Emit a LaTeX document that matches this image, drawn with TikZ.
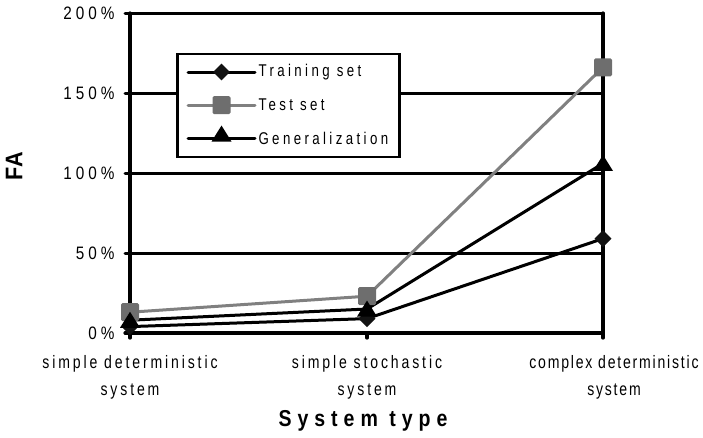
\documentclass[tikz,border=0pt]{standalone}
\usepackage{fontspec}
\setmainfont{Liberation Sans}[FakeStretch=0.78, LetterSpace=20]
\usetikzlibrary{shapes.geometric}
\definecolor{testgrey}{HTML}{808080}
\definecolor{markgrey}{HTML}{6E6E6E}
\tikzset{
  gridline/.style={line width=3pt, line cap=round},
  axisline/.style={line width=3.2pt, line cap=round},
  series/.style={line width=3pt, line cap=round, line join=round},
  dmark/.style={diamond, fill=black!93, minimum width=17pt, minimum height=17pt, inner sep=0pt},
  smark/.style={rectangle, fill=markgrey, minimum size=18pt, inner sep=0pt, rounded corners=1.5pt},
  tmark/.style={isosceles triangle, isosceles triangle apex angle=64, shape border rotate=90,
                fill=black, minimum width=17pt, minimum height=16pt, inner sep=0pt},
  ticklab/.style={anchor=east, font=\fontsize{18}{18}\selectfont\addfontfeature{FakeStretch=0.85, LetterSpace=22}},
  catlab/.style={align=center, font=\fontsize{18}{27}\selectfont\addfontfeature{LetterSpace=16}},
  catlabtight/.style={align=center, font=\fontsize{18}{27}\selectfont\addfontfeature{LetterSpace=10}},
  leglab/.style={anchor=west, font=\fontsize{17}{17}\selectfont},
  axtitle/.style={font=\fontsize{23}{23}\selectfont\bfseries\addfontfeature{FakeStretch=0.85, LetterSpace=26}},
  ytitle/.style={font=\fontsize{24}{24}\selectfont\bfseries\addfontfeature{FakeStretch=0.9, LetterSpace=4}},
}
\begin{document}
\begin{tikzpicture}[x=1pt, y=-1pt]
  \useasboundingbox (0,0) rectangle (703,437);
  % value axis: 0% at y=333, 80 units per 50%
  \def\yv#1{333-1.6*#1}
  % gridlines
  \foreach \v in {50,100,150,200}
    \draw[gridline] (125,{\yv{\v}}) -- (603,{\yv{\v}});
  % plot frame and axes
  \draw[axisline] (603,13) -- (603,338);
  \draw[axisline] (130,13) -- (130,338);
  \draw[axisline] (125,333) -- (603,333);
  \draw[axisline] (367,333) -- (367,338);
  % value labels
  \foreach \v in {0,50,100,150,200}
    \node[ticklab] at (118,{\yv{\v}}) {\v\%};
  % data points
  \coordinate (tr1) at (130,{\yv{4}});
  \coordinate (tr2) at (367,{\yv{9}});
  \coordinate (tr3) at (603,{\yv{59}});
  \coordinate (te1) at (130,{\yv{13}});
  \coordinate (te2) at (367,{\yv{23}});
  \coordinate (te3) at (603,{\yv{166}});
  \coordinate (ge1) at (130,{\yv{8}});
  \coordinate (ge2) at (367,{\yv{15}});
  \coordinate (ge3) at (603,{\yv{106}});
  % series lines
  \draw[series] (tr1) -- (tr2) -- (tr3);
  \draw[series, testgrey] (te1) -- (te2) -- (te3);
  \draw[series] (ge1) -- (ge2) -- (ge3);
  % markers
  \foreach \p in {tr1,tr2,tr3} \node[dmark] at (\p) {};
  \foreach \p in {te1,te2,te3} \node[smark] at (\p) {};
  \foreach \p in {ge1,ge2,ge3} \node[tmark] at ([yshift=-2pt]\p) {};
  % legend
  \node[draw, line width=2.6pt, fill=white, minimum width=222pt, minimum height=103pt,
        inner sep=0pt] (legend) at (288.5,105.5) {};
  \coordinate (l1a) at (188,72);  \coordinate (l1b) at (255,72);
  \coordinate (l2a) at (188,105); \coordinate (l2b) at (255,105);
  \coordinate (l3a) at (188,138); \coordinate (l3b) at (255,138);
  \draw[series] (l1a) -- (l1b);
  \draw[series, testgrey] (l2a) -- (l2b);
  \draw[series] (l3a) -- (l3b);
  \node[dmark] at (221.5,72) {};
  \node[smark] at (221.5,105) {};
  \node[tmark] at (221.5,136) {};
  \node[leglab] (k1) at (255,72) {Training set};
  \node[leglab] (k2) at (255,105) {Test set};
  \node[leglab] (k3) at (255,138) {Generalization};
  % category labels
  \node[catlab] (cat1) at (130,377) {simple deterministic\\system};
  \node[catlab] (cat2) at (367,377) {simple stochastic\\system};
  \node[catlabtight] (cat3) at (614,377) {complex deterministic\\system};
  % axis titles
  \node[axtitle] (xt) at (363,421) {System type};
  \node[ytitle, rotate=90] (yt) at (14,166) {FA};
\end{tikzpicture}
\end{document}
